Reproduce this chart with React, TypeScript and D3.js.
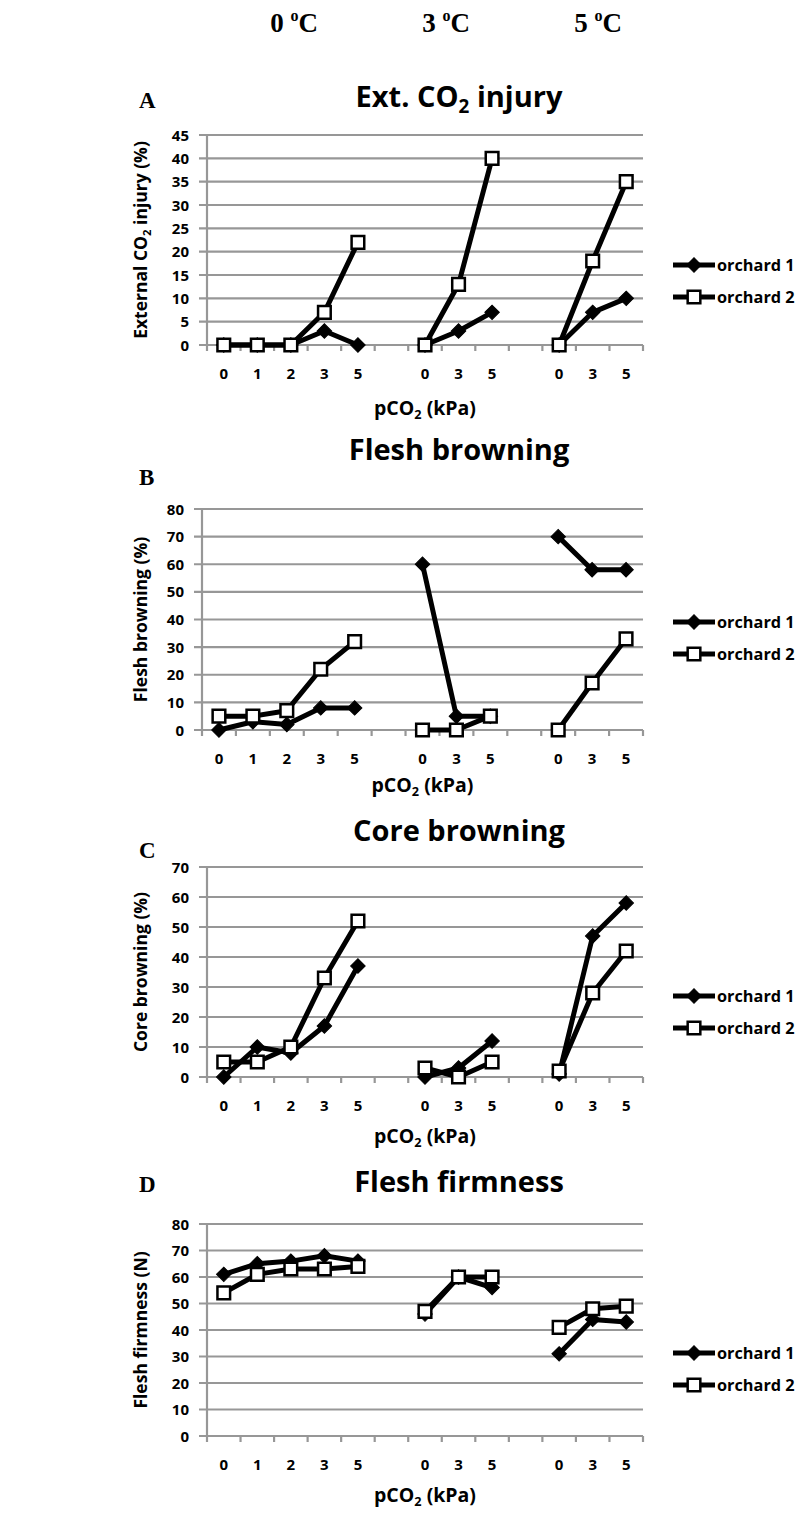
import { useRef, useEffect } from "react";
import * as d3 from "d3";

// x slots: three storage temperatures, an empty slot between groups
const slotLabels = ["0", "1", "2", "3", "5", "", "0", "3", "5", "", "0", "3", "5"];
const groupSlots = [[0, 1, 2, 3, 4], [6, 7, 8], [10, 11, 12]];
const temps = ["0", "3", "5"];
const seriesNames = ["orchard 1", "orchard 2"];

// A - external CO2 injury (%)
const extInjury1 = [[0, 0, 0, 3, 0], [0, 3, 7], [0, 7, 10]];
const extInjury2 = [[0, 0, 0, 7, 22], [0, 13, 40], [0, 18, 35]];
const ticksA = [0, 5, 10, 15, 20, 25, 30, 35, 40, 45];

// B - flesh browning (%)
const fleshBrown1 = [[0, 3, 2, 8, 8], [60, 5, 5], [70, 58, 58]];
const fleshBrown2 = [[5, 5, 7, 22, 32], [0, 0, 5], [0, 17, 33]];
const ticksB = [0, 10, 20, 30, 40, 50, 60, 70, 80];

// C - core browning (%)
const coreBrown1 = [[0, 10, 8, 17, 37], [0, 3, 12], [1, 47, 58]];
const coreBrown2 = [[5, 5, 10, 33, 52], [3, 0, 5], [2, 28, 42]];
const ticksC = [0, 10, 20, 30, 40, 50, 60, 70];

// D - flesh firmness (N)
const firmness1 = [[61, 65, 66, 68, 66], [46, 60, 56], [31, 44, 43]];
const firmness2 = [[54, 61, 63, 63, 64], [47, 60, 60], [41, 48, 49]];
const ticksD = [0, 10, 20, 30, 40, 50, 60, 70, 80];

const SANS = "'Open Sans', Lato, sans-serif";
const SERIF = "'Liberation Serif', 'Times New Roman', serif";
const GRID = "#979797";

const panels = [
  {
    letter: "A", title: ["Ext. CO", "2", " injury"], yLabel: ["External CO", "2", " injury (%)"],
    s1: extInjury1, s2: extInjury2, ticks: ticksA,
    x0: 207, top: 135, bottom: 345, titleY: 107, letterY: 108, legendY: 265, pco2: 70,
  },
  {
    letter: "B", title: ["Flesh browning"], yLabel: ["Flesh browning (%)"],
    s1: fleshBrown1, s2: fleshBrown2, ticks: ticksB,
    x0: 202, top: 509, bottom: 730, titleY: 460, letterY: 485, legendY: 622, pco2: 62,
  },
  {
    letter: "C", title: ["Core browning"], yLabel: ["Core browning (%)"],
    s1: coreBrown1, s2: coreBrown2, ticks: ticksC,
    x0: 207, top: 867, bottom: 1077, titleY: 841, letterY: 858, legendY: 996, pco2: 66,
  },
  {
    letter: "D", title: ["Flesh firmness"], yLabel: ["Flesh firmness (N)"],
    s1: firmness1, s2: firmness2, ticks: ticksD,
    x0: 207, top: 1224, bottom: 1436, titleY: 1192, letterY: 1192, legendY: 1353, pco2: 66,
  },
];

const X1 = 643;

// text with an optional subscript piece in the middle
const subText = (sel, parts, size) => {
  parts.forEach((p, i) => {
    const isSub = parts.length > 1 && i === 1;
    sel.append("tspan")
      .attr("font-size", isSub ? size * 0.65 : size)
      .attr("dy", isSub ? size * 0.22 : i === 2 ? -size * 0.22 : 0)
      .text(p);
  });
};

const diamond = d3.symbol(d3.symbolSquare, 105);
const square = d3.symbol(d3.symbolSquare, 160);

export default function App() {
  const ref = useRef(null);

  useEffect(() => {
    const svg = d3.select(ref.current);
    svg.selectAll("*").remove();

    // temperature header
    const hx = d3.scalePoint().domain(temps).range([294, 598]);
    temps.forEach((t) => {
      const txt = svg.append("text")
        .attr("x", hx(t)).attr("y", 32)
        .attr("text-anchor", "middle")
        .attr("font-family", SERIF).attr("font-weight", "bold").attr("font-size", 27);
      txt.append("tspan").text(t + " ");
      txt.append("tspan").attr("font-size", 16).attr("dy", -11).text("o");
      txt.append("tspan").attr("dy", 11).text("C");
    });

    panels.forEach((p) => {
      const g = svg.append("g");
      const x = d3.scaleBand().domain(d3.range(slotLabels.length)).range([p.x0, X1]);
      const y = d3.scaleLinear().domain([0, p.ticks[p.ticks.length - 1]]).range([p.bottom, p.top]);

      // gridlines + y ticks
      g.selectAll(".grid").data(p.ticks).join("line")
        .attr("x1", p.x0 - 8).attr("x2", X1)
        .attr("y1", (d) => y(d)).attr("y2", (d) => y(d))
        .attr("stroke", GRID).attr("stroke-width", 2.2);
      g.append("line")
        .attr("x1", p.x0).attr("x2", p.x0)
        .attr("y1", p.top).attr("y2", p.bottom)
        .attr("stroke", GRID).attr("stroke-width", 2.2);
      g.selectAll(".ytl").data(p.ticks).join("text")
        .attr("x", p.x0 - 18).attr("y", (d) => y(d) + 5.5)
        .attr("text-anchor", "end")
        .attr("font-family", SANS).attr("font-weight", "bold").attr("font-size", 15)
        .text((d) => d);

      // x ticks at slot boundaries
      const bounds = d3.range(slotLabels.length + 1).map((i) => p.x0 + i * x.step());
      g.selectAll(".xt").data(bounds).join("line")
        .attr("x1", (d) => d).attr("x2", (d) => d)
        .attr("y1", p.bottom).attr("y2", p.bottom + 6)
        .attr("stroke", GRID).attr("stroke-width", 2.2);
      g.selectAll(".xtl").data(slotLabels).join("text")
        .attr("x", (d, i) => x(i) + x.bandwidth() / 2)
        .attr("y", p.bottom + 34)
        .attr("text-anchor", "middle")
        .attr("font-family", SANS).attr("font-weight", "bold").attr("font-size", 15)
        .text((d) => d);

      // axis titles
      const xt = g.append("text")
        .attr("x", (p.x0 + X1) / 2).attr("y", p.bottom + p.pco2)
        .attr("text-anchor", "middle")
        .attr("font-family", SANS).attr("font-weight", "bold").attr("font-size", 19.5);
      subText(xt, ["pCO", "2", " (kPa)"], 19.5);

      const yt = g.append("text")
        .attr("transform", `translate(147,${(p.top + p.bottom) / 2}) rotate(-90)`)
        .attr("text-anchor", "middle")
        .attr("font-family", SANS).attr("font-weight", "bold").attr("font-size", 17.5);
      subText(yt, p.yLabel, 17.5);

      const tt = g.append("text")
        .attr("x", 459).attr("y", p.titleY)
        .attr("text-anchor", "middle")
        .attr("font-family", SANS).attr("font-weight", "bold").attr("font-size", 29);
      subText(tt, p.title, 29);

      g.append("text")
        .attr("x", 139).attr("y", p.letterY)
        .attr("font-family", SERIF).attr("font-weight", "bold").attr("font-size", 23)
        .text(p.letter);

      // series lines, one segment per temperature group
      const line = d3.line().x((d) => x(d[0]) + x.bandwidth() / 2).y((d) => y(d[1]));
      const series = [p.s1, p.s2];
      series.forEach((s) => {
        groupSlots.forEach((slots, gi) => {
          const pts = slots.map((slot, k) => [slot, s[gi][k]]);
          g.append("path").datum(pts)
            .attr("d", line)
            .attr("fill", "none").attr("stroke", "#000").attr("stroke-width", 5)
            .attr("stroke-linejoin", "round");
        });
      });
      series.forEach((s, si) => {
        groupSlots.forEach((slots, gi) => {
          const pts = slots.map((slot, k) => [slot, s[gi][k]]);
          g.selectAll(null).data(pts).join("path")
            .attr("transform", (d) => `translate(${x(d[0]) + x.bandwidth() / 2},${y(d[1])})` + (si === 0 ? " rotate(45)" : ""))
            .attr("d", si === 0 ? diamond() : square())
            .attr("fill", si === 0 ? "#000" : "#fff")
            .attr("stroke", "#000").attr("stroke-width", si === 0 ? 1 : 2.5);
        });
      });

      // legend
      seriesNames.forEach((name, si) => {
        const ly = p.legendY + si * 32;
        g.append("line")
          .attr("x1", 673).attr("x2", 715).attr("y1", ly).attr("y2", ly)
          .attr("stroke", "#000").attr("stroke-width", 5);
        g.append("path")
          .attr("transform", `translate(694,${ly})` + (si === 0 ? " rotate(45)" : ""))
          .attr("d", si === 0 ? diamond() : square())
          .attr("fill", si === 0 ? "#000" : "#fff")
          .attr("stroke", "#000").attr("stroke-width", si === 0 ? 1 : 2.5);
        g.append("text")
          .attr("x", 717).attr("y", ly + 6)
          .attr("font-family", SANS).attr("font-weight", "bold").attr("font-size", 16.3)
          .text(name);
      });
    });
  }, []);

  return (
    <svg
      ref={ref}
      width={802}
      height={1513}
      style={{ position: "absolute", left: 0, top: 0, background: "#fff" }}
    />
  );
}
